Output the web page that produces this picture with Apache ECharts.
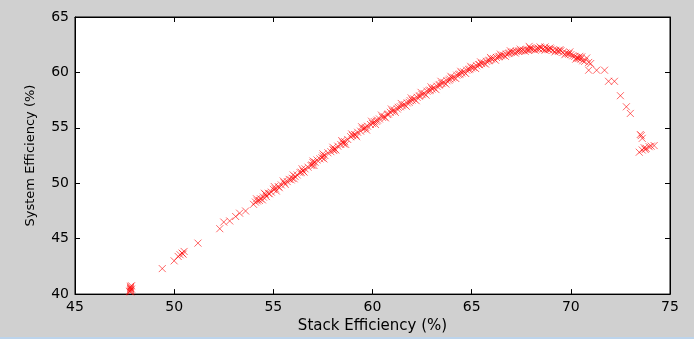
<!DOCTYPE html>
<html>
<head>
<meta charset="utf-8">
<script src="https://cdn.jsdelivr.net/npm/echarts@6/dist/echarts.min.js"></script>
<style>
html,body{margin:0;padding:0;background:#d0d0d0;}
#c{width:694px;height:339px;}
</style>
</head>
<body>
<div id="c"></div>
<script>
const xTicks = [45, 50, 55, 60, 65, 70, 75];
const yTicks = [40, 45, 50, 55, 60, 65];
const xTitle = 'Stack Efficiency (%)';
const yTitle = 'System Efficiency (%)';

const lowCluster = [[47.8,40.2],[47.8,40.3],[47.8,40.4],[47.8,40.5],[47.8,40.6],[47.8,40.7],[47.85,40.75],[47.75,40.25],[47.85,40.45]];
const risingSparse = [[49.4,42.3],[50.0,43.0],[50.2,43.4],[50.3,43.55],[50.4,43.7],[50.5,43.85],[50.45,43.6],
  [51.2,44.6],[52.3,45.9],[52.5,46.5],[52.8,46.6],[53.1,47.0],[53.3,47.3],[53.6,47.5]];
const mainBand = [[54.0,48.1],[54.1,48.3],[54.2,48.4],[54.35,48.6],[54.5,48.75],[54.6,49.0],[54.75,49.1],[54.9,49.2],[55.0,49.45],[55.1,49.5],[55.25,49.7],[55.4,49.85],[55.55,50.05],[55.7,50.15],[55.8,50.35],[55.95,50.45],[56.1,50.6],[56.2,50.75],[56.35,50.95],[56.5,51.1],[56.6,51.3],[56.75,51.45],[56.9,51.6],[57.0,51.85],[57.1,51.9],[57.2,52.1],[57.35,52.2],[57.5,52.45],[57.6,52.5],[57.75,52.75],[57.9,52.85],[58.0,53.05],[58.1,53.1],[58.25,53.35],[58.4,53.5],[58.5,53.7],[58.6,53.75],[58.75,53.95],[58.9,54.2],[59.0,54.3],[59.1,54.4],[59.25,54.6],[59.4,54.7],[59.5,54.9],[59.6,54.95],[59.75,55.15],[59.9,55.3],[60.0,55.4],[60.1,55.55],[60.2,55.6],[60.35,55.8],[60.5,55.95],[60.6,56.0],[60.75,56.2],[60.9,56.4],[61.0,56.5],[61.1,56.6],[61.25,56.7],[61.4,56.9],[61.5,57.0],[61.6,57.1],[61.75,57.25],[61.9,57.45],[62.0,57.5],[62.1,57.6],[62.25,57.75],[62.4,57.9],[62.5,58.0],[62.6,58.1],[62.75,58.3],[62.9,58.4],[63.0,58.5],[63.1,58.6],[63.25,58.75],[63.4,58.9],[63.5,59.0],[63.6,59.1],[63.75,59.25],[63.9,59.4],[64.0,59.5],[64.1,59.55],[64.25,59.75],[64.4,59.85],[64.5,59.95],[64.6,60.05],[64.75,60.2],[64.9,60.3],[65.0,60.4],[65.1,60.45],[65.25,60.6],[65.4,60.7],[65.5,60.8],[65.6,60.85],[65.75,61.0],[65.9,61.1],[66.0,61.2],[66.1,61.25],[66.25,61.35],[66.4,61.45],[66.5,61.5],[66.6,61.55],[66.75,61.65],[66.9,61.75],[67.0,61.8],[67.1,61.85],[67.25,61.9],[67.4,61.95],[67.5,61.95],[67.6,62.0],[67.75,62.05],[67.9,62.05],[68.0,62.1],[68.1,62.1],[68.25,62.15],[68.4,62.1],[68.5,62.2],[68.6,62.1],[68.75,62.15],[68.9,62.05],[69.0,62.1],[69.1,62.0],[69.25,62.0],[69.4,61.9],[69.5,61.95],[69.6,61.8],[69.75,61.75],[69.9,61.65],[70.0,61.6],[70.1,61.5],[70.2,61.45],[70.3,61.35],[70.4,61.25],[70.5,61.2],[70.6,61.05],[70.55,61.4],
  [54.3,48.45],[54.8,49.05],[55.3,49.6],[55.9,50.3],[56.4,51.0],[56.95,51.65],[57.45,52.3],[58.05,52.95],[58.55,53.55],[59.15,54.35],[59.65,55.05],[60.25,55.7],[60.8,56.25],[61.3,56.85],[61.85,57.3],[62.35,57.85],[62.85,58.35],[63.35,58.85],[63.85,59.3],[64.35,59.8],[64.85,60.25],[65.35,60.7],[65.85,61.05],[66.35,61.4],[66.85,61.7],[67.35,61.9],[67.85,62.0],[68.35,62.2],[68.85,62.1],[69.35,61.95],[69.85,61.7],[70.35,61.3],[67.9,62.35],[68.7,62.3]];
const bandLower = [[54.45,48.5],[54.65,48.8],[55.15,49.3],[55.6,49.9],[56.05,50.4],[56.55,51.0],[57.05,51.6],[57.55,52.2],[58.15,53.0],[58.65,53.5],[59.2,54.2],[59.7,54.8],[60.15,55.3],[60.65,55.9],[61.15,56.4],[61.7,56.95],[62.2,57.45],[62.7,57.95],[63.2,58.45],[63.7,58.95],[64.2,59.45],[64.7,59.9],[65.2,60.35],[65.7,60.75],[66.2,61.1],[66.7,61.45],[67.2,61.75],[67.7,61.9],[68.2,62.0],[68.7,62.0],[69.2,61.85],[69.7,61.6],[70.25,61.2],[70.7,61.0]];
const bandUpper = [[54.15,48.6],[54.55,49.1],[55.05,49.7],[55.5,50.2],[56.0,50.75],[56.45,51.3],[57.0,52.0],[57.5,52.65],[58.0,53.25],[58.45,53.85],[58.95,54.45],[59.45,55.1],[59.95,55.6],[60.45,56.15],[60.95,56.7],[61.45,57.2],[61.95,57.7],[62.45,58.2],[62.95,58.7],[63.45,59.2],[63.95,59.65],[64.45,60.1],[64.95,60.55],[65.45,60.95],[65.95,61.35],[66.45,61.65],[66.95,61.95],[67.45,62.1],[67.95,62.2],[68.45,62.3],[68.95,62.2],[69.45,62.05],[69.95,61.85],[70.45,61.45]];
const tail = [[70.9,60.9],[71.0,60.8],[70.8,61.3],[70.9,60.2],[71.3,60.2],[71.7,60.2],[71.9,59.2],[72.2,59.2],[72.5,57.9],[72.8,56.9],[73.0,56.3],[73.5,54.4],[73.55,54.3],[73.6,54.05],[73.45,52.8],[73.6,53.0],[73.7,53.2],[73.8,53.15],[73.95,53.3],[74.05,53.35],[74.2,53.4],[73.75,53.05]];

const allPoints = lowCluster.concat(risingSparse, mainBand, bandLower, bandUpper, tail);

const font = 'DejaVu Sans';
const chart = echarts.init(document.getElementById('c'));
const axisLineStyle = {show:true, lineStyle:{color:'#000', width:1}};
chart.setOption({
  backgroundColor: '#d0d0d0',
  animation: false,
  grid: {left:75, right:24, top:17, bottom:41, show:true, backgroundColor:'#fff', borderColor:'#000', borderWidth:1},
  xAxis: [
    {type:'value', min:xTicks[0], max:xTicks[xTicks.length-1], interval:5, position:'bottom',
     axisLine:axisLineStyle, axisTick:{show:true, inside:true, length:5, lineStyle:{color:'#000'}},
     axisLabel:{color:'#000', fontFamily:font, fontSize:14, margin:6},
     splitLine:{show:false},
     name:xTitle, nameLocation:'middle', nameGap:23,
     nameTextStyle:{color:'#000', fontFamily:font, fontSize:15}},
    {type:'value', min:xTicks[0], max:xTicks[xTicks.length-1], interval:5, position:'top',
     axisLine:axisLineStyle, axisTick:{show:true, inside:true, length:5, lineStyle:{color:'#000'}},
     axisLabel:{show:false}, splitLine:{show:false}}
  ],
  yAxis: [
    {type:'value', min:yTicks[0], max:yTicks[yTicks.length-1], interval:5, position:'left',
     axisLine:axisLineStyle, axisTick:{show:true, inside:true, length:5, lineStyle:{color:'#000'}},
     axisLabel:{color:'#000', fontFamily:font, fontSize:14, margin:6},
     splitLine:{show:false},
     name:yTitle, nameLocation:'middle', nameGap:38, nameRotate:90,
     nameTextStyle:{color:'#000', fontFamily:font, fontSize:13}},
    {type:'value', min:yTicks[0], max:yTicks[yTicks.length-1], interval:5, position:'right',
     axisLine:axisLineStyle, axisTick:{show:true, inside:true, length:5, lineStyle:{color:'#000'}},
     axisLabel:{show:false}, splitLine:{show:false}}
  ],
  graphic: [{type:'rect', left:0, top:337, shape:{width:694, height:2}, style:{fill:'#bcd4ec'}}],
  series: [{
    type:'scatter', xAxisIndex:0, yAxisIndex:0,
    data: allPoints,
    symbol:'path://M0,0L10,10M10,0L0,10',
    symbolSize:7,
    itemStyle:{color:'none', borderColor:'rgba(255,0,0,0.75)', borderWidth:1}
  }]
});
</script>
</body>
</html>
